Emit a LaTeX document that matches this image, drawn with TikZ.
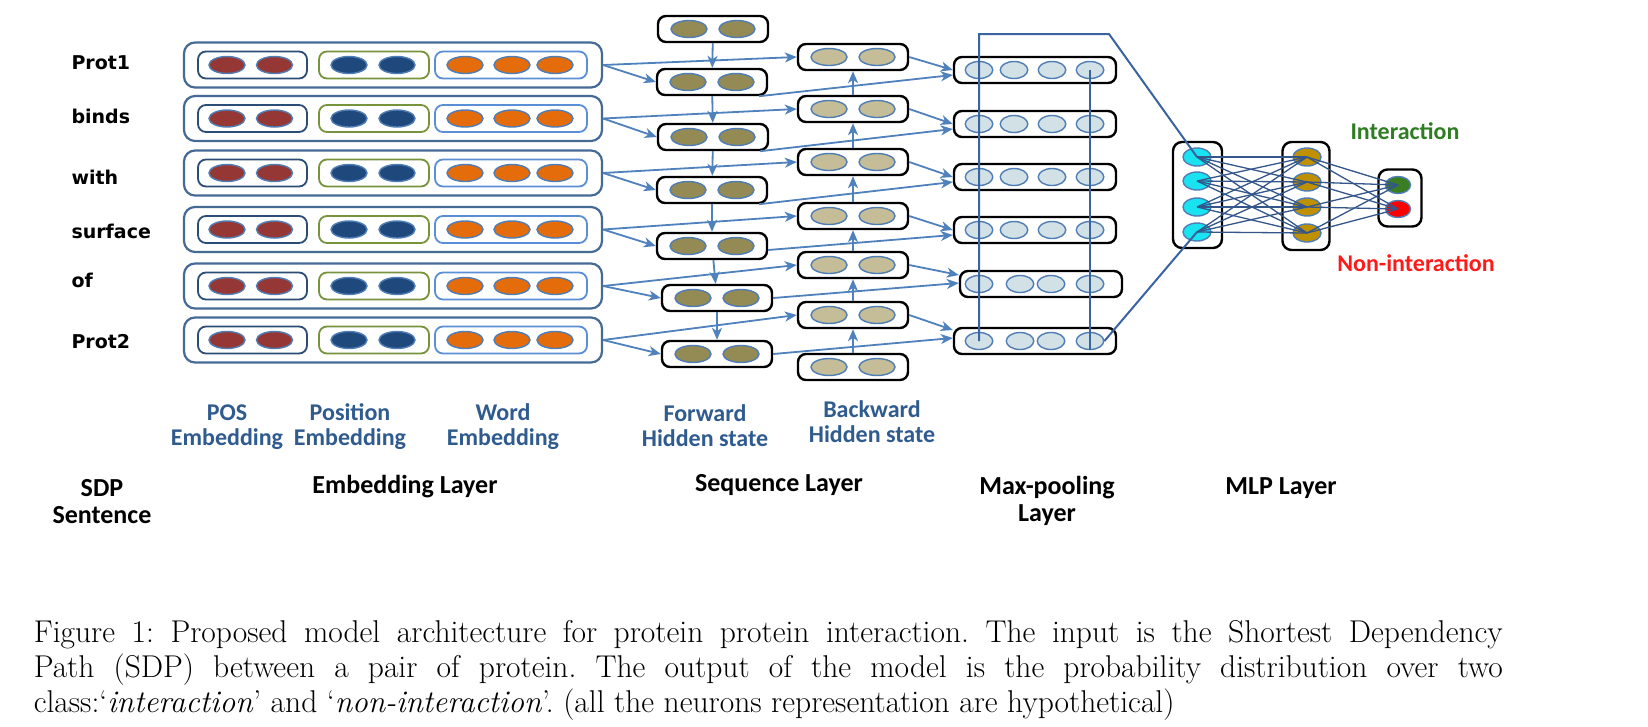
\documentclass[tikz,border=0pt]{standalone}
\usepackage{fontspec}
\newfontfamily\lblfont{Carlito}
\newfontfamily\wordfont{DejaVu Sans}
\usetikzlibrary{arrows.meta, shapes.geometric}
\definecolor{cArrow}{HTML}{4F81BD}
\definecolor{bRow}{HTML}{466A96}
\definecolor{bPos}{HTML}{2C4D75}
\definecolor{bLoc}{HTML}{77933C}
\definecolor{bWrd}{HTML}{5A8FD6}
\definecolor{bUnit}{HTML}{4F7DB5}
\definecolor{cPos}{HTML}{953735}
\definecolor{cLoc}{HTML}{1F497D}
\definecolor{cWrd}{HTML}{E46C0A}
\definecolor{cFw}{HTML}{948A54}
\definecolor{cBw}{HTML}{C4BD97}
\definecolor{cMp}{HTML}{D2E1E6}
\definecolor{cIn}{HTML}{19E3F0}
\definecolor{cHd}{HTML}{BF9000}
\definecolor{cYes}{HTML}{3A7D22}
\definecolor{cNo}{HTML}{FF0000}
\definecolor{cLink}{HTML}{34568B}
\definecolor{cPool}{HTML}{3A64A0}
\definecolor{cSub}{HTML}{2F5B8E}
\definecolor{tYes}{HTML}{2E7D23}
\definecolor{tNo}{HTML}{FF1A1A}
\tikzset{
  arr/.style={-{Stealth[length=12pt,width=10pt,inset=3.5pt]}, draw=cArrow, line width=1.8pt},
  link/.style={draw=cLink, line width=1.3pt},
  pool/.style={draw=cPool, line width=2pt},
  embrow/.style={draw=bRow, rounded corners=11pt, line width=2.2pt,
                 minimum width=418pt, minimum height=45pt, inner sep=0pt},
  inbox/.style={rounded corners=8pt, line width=1.8pt, minimum height=27pt, inner sep=0pt},
  posbox/.style={inbox, draw=bPos, minimum width=109pt},
  locbox/.style={inbox, draw=bLoc, minimum width=110pt},
  wrdbox/.style={inbox, draw=bWrd, minimum width=152pt},
  hidbox/.style={draw=black, fill=white, rounded corners=8pt, line width=2.4pt,
                 minimum width=110pt, minimum height=26pt, inner sep=0pt},
  poolbox/.style={hidbox, minimum width=162pt},
  mlpbox/.style={draw=black, fill=white, rounded corners=9pt, line width=2.4pt, inner sep=0pt},
  unit/.style={ellipse, draw=bUnit, line width=1.4pt, inner sep=0pt,
               minimum width=36pt, minimum height=17pt},
  posunit/.style={unit, fill=cPos},
  locunit/.style={unit, fill=cLoc},
  wrdunit/.style={unit, fill=cWrd},
  fwunit/.style={unit, fill=cFw},
  bwunit/.style={unit, fill=cBw},
  mpunit/.style={unit, fill=cMp, minimum width=27.5pt},
  mlpunit/.style={unit, minimum width=28pt, minimum height=18pt},
  wordlbl/.style={anchor=west, font=\wordfont\bfseries\fontsize{19}{20}\selectfont},
  sublbl/.style={align=center, text=cSub, font=\lblfont\bfseries\fontsize{24}{25}\selectfont},
  laylbl/.style={align=center, font=\lblfont\bfseries\fontsize{26}{27}\selectfont},
  outlbl/.style={font=\lblfont\bfseries\fontsize{24}{25}\selectfont},
  capt/.style={anchor=north west, text width=1469pt, align=justify, inner sep=0pt,
               font=\fontsize{31.5}{35}\selectfont\frenchspacing},
}

\begin{document}
\begin{tikzpicture}[x=1pt, y=-1pt]
\path[use as bounding box, fill=white] (0,0) rectangle (1648,726);

% SDP sentence
\node[wordlbl] (w1) at (68, 63) {Prot1};
\node[wordlbl] (w2) at (68, 116) {binds};
\node[wordlbl] (w3) at (68, 177) {with};
\node[wordlbl] (w4) at (68, 231) {surface};
\node[wordlbl] (w5) at (68, 280) {of};
\node[wordlbl] (w6) at (68, 341.5) {Prot2};

% Embedding layer, one row per word
\foreach \i/\y in {1/65, 2/118.5, 3/173, 4/229.5, 5/286, 6/340} {
  \node[embrow] (emb\i) at (393, \y) {};
  \node[posbox] (pos\i) at (252.5, \y) {};
  \node[locbox] (loc\i) at (374, \y) {};
  \node[wrdbox] (wrd\i) at (511, \y) {};
  \node[posunit] (pos\i-1) at (227, \y) {};
  \node[posunit] (pos\i-2) at (274.5, \y) {};
  \node[locunit] (loc\i-1) at (349, \y) {};
  \node[locunit] (loc\i-2) at (397, \y) {};
  \node[wrdunit] (wrd\i-1) at (465, \y) {};
  \node[wrdunit] (wrd\i-2) at (512, \y) {};
  \node[wrdunit] (wrd\i-3) at (555, \y) {};
}

% Sequence layer: forward states
\foreach \i/\x/\y in {0/713/29, 1/712/82, 2/713/137, 3/712/190, 4/712/246, 5/717/298, 6/717/354} {
  \node[hidbox] (fw\i) at (\x, \y) {};
  \node[fwunit] (fw\i-1) at (\x-24, \y) {};
  \node[fwunit] (fw\i-2) at (\x+24, \y) {};
}

% Sequence layer: backward states
\foreach \i/\y in {1/57, 2/109, 3/162, 4/216, 5/265, 6/315, 7/367} {
  \node[hidbox] (bw\i) at (853, \y) {};
  \node[bwunit] (bw\i-1) at (829, \y) {};
  \node[bwunit] (bw\i-2) at (877, \y) {};
}

% Max-pooling layer
\foreach \i/\x/\y/\b/\c in {1/1035/70/1014/1052, 2/1035/124/1014/1052, 3/1035/177/1014/1052,
                            4/1035/230/1014/1052, 5/1041/284/1020/1051, 6/1035/341/1020/1051} {
  \node[poolbox] (mp\i) at (\x, \y) {};
  \node[mpunit] (mp\i-1) at (979, \y) {};
  \node[mpunit] (mp\i-2) at (\b, \y) {};
  \node[mpunit] (mp\i-3) at (\c, \y) {};
  \node[mpunit] (mp\i-4) at (1090, \y) {};
}

% MLP layer
\node[mlpbox, minimum width=49pt, minimum height=106pt] (mlpA) at (1197.5, 195) {};
\node[mlpbox, minimum width=47pt, minimum height=108pt] (mlpB) at (1306, 196) {};
\node[mlpbox, minimum width=43pt, minimum height=57pt] (outb) at (1400, 198) {};
\foreach \i/\y in {1/157, 2/181, 3/207, 4/232}
  \node[mlpunit, fill=cIn] (in\i) at (1197, \y) {};
\foreach \i/\y in {1/157, 2/182, 3/207, 4/233}
  \node[mlpunit, fill=cHd] (hd\i) at (1307, \y) {};
\node[mlpunit, fill=cYes, minimum width=25pt, minimum height=17pt] (yes) at (1398, 185) {};
\node[mlpunit, fill=cNo, minimum width=25pt, minimum height=17pt] (no) at (1398, 209) {};

% Words into both directions
\foreach \i in {1,...,6} {
  \draw[arr] (emb\i.east) -- (fw\i.west);
  \draw[arr] (emb\i.east) -- (bw\i.west);
}
\foreach \i [evaluate=\i as \j using int(\i+1)] in {0,...,5}
  \draw[arr] (fw\i) -- (fw\j);
\foreach \i [evaluate=\i as \j using int(\i+1)] in {1,...,6}
  \draw[arr] (bw\j) -- (bw\i);

% Hidden states into max-pooling
\draw[arr] ([xshift=-9pt]fw1.south east) -- ([yshift=-5pt]mp1.west);
\draw[arr] ([xshift=-9pt]fw2.south east) -- ([yshift=-5pt]mp2.west);
\draw[arr] ([xshift=-9pt]fw3.south east) -- ([yshift=-5pt]mp3.west);
\draw[arr] ([yshift=-4pt]fw4.east) -- ([yshift=-5pt]mp4.west);
\draw[arr] (fw5.east) -- ([yshift=1pt]mp5.west);
\draw[arr] (fw6.east) -- ([yshift=3pt]mp6.west);
\draw[arr] (bw1.east) -- (mp1.west);
\draw[arr] (bw2.east) -- (mp2.west);
\draw[arr] (bw3.east) -- (mp3.west);
\draw[arr] (bw4.east) -- (mp4.west);
\draw[arr] (bw5.east) -- ([yshift=9pt]mp5.west);
\draw[arr] (bw6.east) -- ([yshift=11pt]mp6.west);

% Pooled vector into the MLP
\coordinate (tr) at (1109, 34);
\draw[pool] (mp6-1.center) |- (tr) -- (in1.center);
\draw[pool] (mp1-4.center) -- ([yshift=-9pt]mp6-4.center);
\draw[pool] (mp6-4.east) -- (in4.center);

% Fully connected MLP
\foreach \i in {1,...,4} {
  \foreach \j in {1,...,4}
    \draw[link] (in\i.center) -- (hd\j.center);
  \draw[link] (hd\i.center) -- (yes.center);
  \draw[link] (hd\i.center) -- (no.center);
}

% Labels
\node[outlbl, text=tYes] (lblyes) at (1405, 131) {Interaction};
\node[outlbl, text=tNo] (lblno) at (1416, 263) {Non-interaction};
\node[sublbl] (lblpos) at (227, 427) {POS\\Embedding};
\node[sublbl] (lblloc) at (350, 427) {Position\\Embedding};
\node[sublbl] (lblwrd) at (503, 427) {Word\\Embedding};
\node[sublbl] (lblfw) at (705, 426) {Forward\\Hidden state};
\node[sublbl] (lblbw) at (872, 422) {Backward\\Hidden state};
\node[laylbl] (lblsdp) at (102, 501.5) {SDP\\Sentence};
\node[laylbl] (lblemb) at (405, 487) {Embedding Layer};
\node[laylbl] (lblseq) at (779, 485) {Sequence Layer};
\node[laylbl] (lblmax) at (1047, 501) {Max-pooling\\Layer};
\node[laylbl] (lblmlp) at (1281, 488) {MLP Layer};

% Caption
\node[capt] (cap) at (33.6, 620) {Figure 1: Proposed model architecture for protein protein interaction. The input is the Shortest Dependency\linebreak Path (SDP) between a pair of protein. The output of the model is the probability distribution over two\linebreak class:`\textit{interaction}' and `\textit{non-interaction}'. (all the neurons representation are hypothetical)};

\end{tikzpicture}
\end{document}
